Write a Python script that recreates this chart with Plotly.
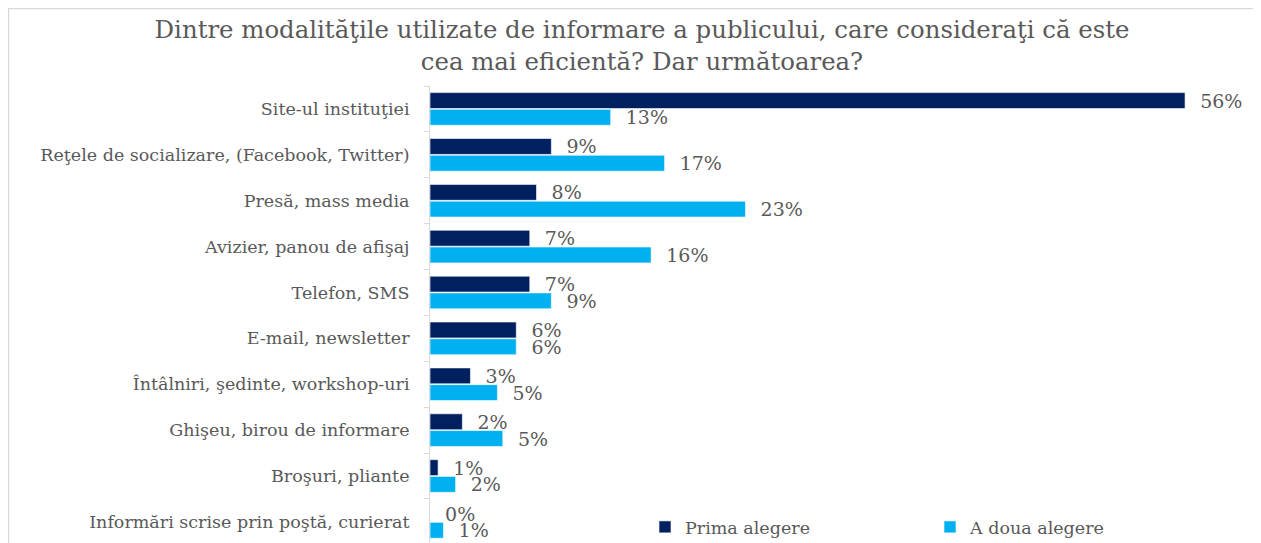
import plotly.graph_objects as go

categories = [
    "Site-ul instituţiei",
    "Reţele de socializare, (Facebook, Twitter)",
    "Presă, mass media",
    "Avizier, panou de afişaj",
    "Telefon, SMS",
    "E-mail, newsletter",
    "Întâlniri, şedinte, workshop-uri",
    "Ghişeu, birou de informare",
    "Broşuri, pliante",
    "Informări scrise prin poştă, curierat",
]
prima = [56.0, 9.0, 7.9, 7.4, 7.4, 6.4, 3.0, 2.4, 0.6, 0.0]
a_doua = [13.4, 17.4, 23.4, 16.4, 9.0, 6.4, 5.0, 5.4, 1.9, 1.0]

title_text = ("Dintre modalităţile utilizate de informare a publicului, care consideraţi că este"
              "<br>cea mai eficientă? Dar următoarea?")

FONT = "DejaVu Serif"
GRAY = "#595959"

# page body has an 8px margin, so the figure is sized to fill the remaining window
W, H = 1253, 535
L, R, T, B = 422, 22, 78, 0
PW, PH = W - L - R, H - T - B

fig = go.Figure()
fig.add_trace(go.Bar(
    y=categories, x=prima, name="Prima alegere", orientation="h",
    marker=dict(color="#002060", line=dict(color="rgba(255,255,255,0.6)", width=1)),
    texttemplate="\u00a0\u00a0%{x:.0f}%", textposition="outside", constraintext="none",
    textfont=dict(family=FONT, size=19, color=GRAY), cliponaxis=False,
))
fig.add_trace(go.Bar(
    y=categories, x=a_doua, name="A doua alegere", orientation="h",
    marker=dict(color="#00B0F0", line=dict(color="rgba(255,255,255,0.6)", width=1)),
    texttemplate="\u00a0\u00a0%{x:.0f}%", textposition="outside", constraintext="none",
    textfont=dict(family=FONT, size=19, color=GRAY), cliponaxis=False,
))

fig.update_layout(
    width=W, height=H,
    margin=dict(l=L, r=R, t=T, b=B, autoexpand=False),
    paper_bgcolor="white", plot_bgcolor="white",
    barmode="group", bargap=0.27, bargroupgap=0.05,
    font=dict(family=FONT, color=GRAY),
    title=dict(text=title_text, x=0.506, xref="container", xanchor="center",
               y=1 - 30 / H, yref="container", yanchor="top",
               font=dict(family=FONT, size=24.4, color=GRAY)),
    xaxis=dict(range=[0, 60], showticklabels=False, showgrid=False,
               zeroline=False, showline=False, automargin=False),
    yaxis=dict(range=[9.46, -0.5], showgrid=False, showline=True, automargin=False,
               linecolor="#d9d9d9", linewidth=1, ticks="outside",
               tickson="boundaries", ticklen=5, tickcolor="#d9d9d9",
               tickfont=dict(family=FONT, size=17.5, color=GRAY),
               ticklabelstandoff=16),
    legend=dict(orientation="h", x=(645 - 8 - L) / PW, xanchor="left",
                y=(H - (527 - 8)) / PH, yanchor="middle",
                entrywidth=240, entrywidthmode="pixels",
                font=dict(family=FONT, size=17.5, color=GRAY),
                bgcolor="rgba(0,0,0,0)", traceorder="normal"),
    showlegend=True,
)

fig.add_shape(type="rect", xref="paper", yref="paper",
              x0=(0 - L) / PW, x1=1.2, y0=-0.2, y1=(H - 0) / PH,
              line=dict(color="#d9d9d9", width=2.5), fillcolor="rgba(0,0,0,0)",
              layer="below")

fig.write_html("out.html")
